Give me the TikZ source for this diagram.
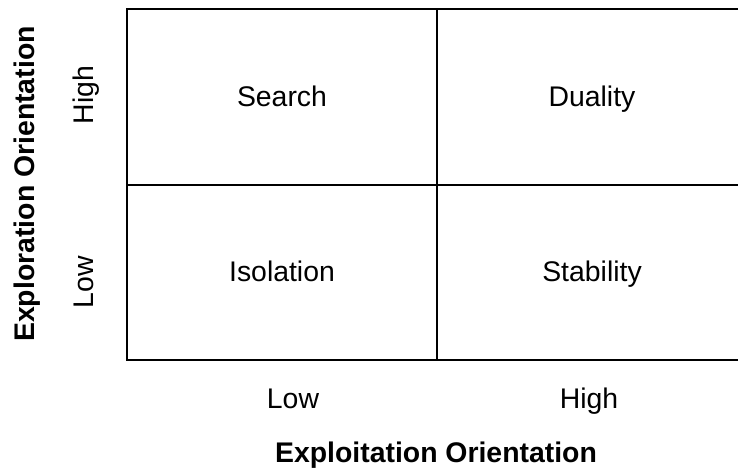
\documentclass[tikz,border=0pt]{standalone}
\usepackage{fontspec}
\setmainfont{Liberation Sans}
\usepackage{tikz}
\usetikzlibrary{positioning}

\begin{document}
\begin{tikzpicture}[x=1bp, y=-1bp, grid/.style={line width=2bp, black},
    cell/.style={font=\fontsize{28.5}{33}\selectfont, inner sep=0pt, text height=20bp, text depth=6bp},
    axis/.style={font=\fontsize{28.5}{33}\selectfont\bfseries, inner sep=0pt, text height=20bp, text depth=6bp}]
   \useasboundingbox (0,0) rectangle (738,470);

   %corners of the matrix
   \coordinate (tl) at (127,9);
   \coordinate (tr) at (740,9);
   \coordinate (ml) at (127,185);
   \coordinate (mr) at (740,185);
   \coordinate (bl) at (127,360);
   \coordinate (br) at (740,360);
   \coordinate (tm) at (437,9);
   \coordinate (bm) at (437,360);

   %cells
   \node[cell] (search) at (282,100) {Search};
   \node[cell] (duality) at (592,100) {Duality};
   \node[cell] (isolation) at (282,275) {Isolation};
   \node[cell] (stability) at (592,275) {Stability};

   %exploitation axis
   \node[cell] (xlow) at (293,401) {Low};
   \node[cell] (xhigh) at (589,401) {High};
   \node[axis] (xlabel) at (436,455) {Exploitation Orientation};

   %exploration axis
   \node[cell, rotate=90] (yhigh) at (86,95) {High};
   \node[cell, rotate=90] (ylow) at (86,282) {Low};
   \node[axis, rotate=90] (ylabel) at (27,184) {Exploration Orientation};

   \draw[grid] (tr) -- (tl) -- (bl) -- (br);
   \draw[grid] (ml) -- (mr);
   \draw[grid] (tm) -- (bm);
\end{tikzpicture}
\end{document}
